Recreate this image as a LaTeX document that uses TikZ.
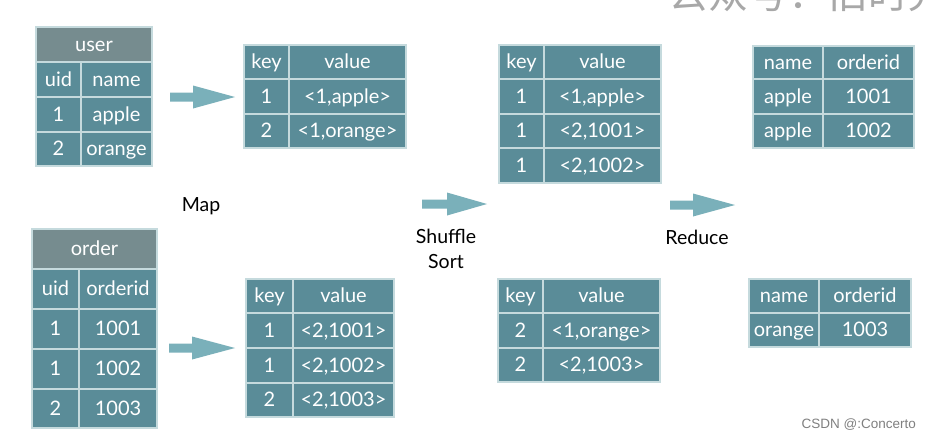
\documentclass[tikz,border=0pt]{standalone}
\usepackage{fontspec}
\setmainfont{Lato}
\newfontfamily\cjkfont{Noto Sans CJK SC}
\newfontfamily\libsans{Liberation Sans}
\definecolor{cellc}{HTML}{5A8C98}
\definecolor{headc}{HTML}{768C8F}
\definecolor{gridc}{HTML}{C5DADD}
\definecolor{arrowc}{HTML}{7AB0BA}
\definecolor{wmc}{HTML}{A8A8A8}
\tikzset{
  tcellbase/.style={draw=gridc, line width=1.2pt, text=white, inner sep=0pt,
    font=\fontsize{20}{20}\selectfont, text height=15pt, text depth=2pt},
  lbl/.style={text=black, font=\fontsize{19.5}{25}\selectfont, inner sep=0pt, align=center}
}
% #1 fill, #2 name, #3 x1, #4 y1, #5 x2, #6 y2, #7 text
\newcommand\tcell[7][cellc]{%
  \node[tcellbase, fill=#1, minimum width={#5pt-#3pt}, minimum height={#6pt-#4pt}]
    (#2) at ({(#3+#5)/2},{(#4+#6)/2}) {#7};}
% x1, head start, tip, y
\newcommand\barrow[4]{%
  \fill[arrowc] ({#1},{#4-4.5}) -- ({#2},{#4-4.5}) -- ({#2},{#4-11.5}) -- ({#3},{#4})
    -- ({#2},{#4+11.5}) -- ({#2},{#4+4.5}) -- ({#1},{#4+4.5}) -- cycle;}
\begin{document}
\begin{tikzpicture}[x=1pt,y=-1pt]
\useasboundingbox (0,0) rectangle (930,440);
\fill[white] (0,0) rectangle (930,440);
\begin{scope}
\clip (0,0) rectangle (930,440);
\node[anchor=base west, text=wmc, font=\cjkfont\fontsize{40}{40}\selectfont, inner sep=0pt] (wm) at (668,8) {公众号：旧时光};
\end{scope}

% user table
\tcell[headc]{uh}{36}{27}{152}{62}{user}
\tcell{u11}{36}{62}{81}{97}{uid}
\tcell{u12}{81}{62}{152}{97}{name}
\tcell{u21}{36}{97}{81}{132}{1}
\tcell{u22}{81}{97}{152}{132}{apple}
\tcell{u31}{36}{132}{81}{166}{2}
\tcell{u32}{81}{132}{152}{166}{orange}

% order table
\tcell[headc]{oh}{32}{229}{157}{269}{order}
\tcell{o11}{32}{269}{79}{309}{uid}
\tcell{o12}{79}{269}{157}{309}{orderid}
\tcell{o21}{32}{309}{79}{349}{1}
\tcell{o22}{79}{309}{157}{349}{1001}
\tcell{o31}{32}{349}{79}{389}{1}
\tcell{o32}{79}{349}{157}{389}{1002}
\tcell{o41}{32}{389}{79}{428}{2}
\tcell{o42}{79}{389}{157}{428}{1003}

% map output 1
\tcell{ma11}{244}{45}{289}{79}{key}
\tcell{ma12}{289}{45}{406}{79}{value}
\tcell{ma21}{244}{79}{289}{114}{1}
\tcell{ma22}{289}{79}{406}{114}{<1,apple>}
\tcell{ma31}{244}{114}{289}{148}{2}
\tcell{ma32}{289}{114}{406}{148}{<1,orange>}

% map output 2
\tcell{mb11}{246}{279}{293}{313}{key}
\tcell{mb12}{293}{279}{394}{313}{value}
\tcell{mb21}{246}{313}{293}{348}{1}
\tcell{mb22}{293}{313}{394}{348}{<2,1001>}
\tcell{mb31}{246}{348}{293}{383}{1}
\tcell{mb32}{293}{348}{394}{383}{<2,1002>}
\tcell{mb41}{246}{383}{293}{417}{2}
\tcell{mb42}{293}{383}{394}{417}{<2,1003>}

% shuffle output 1
\tcell{sa11}{499}{45}{544}{79}{key}
\tcell{sa12}{544}{45}{661}{79}{value}
\tcell{sa21}{499}{79}{544}{114}{1}
\tcell{sa22}{544}{79}{661}{114}{<1,apple>}
\tcell{sa31}{499}{114}{544}{148}{1}
\tcell{sa32}{544}{114}{661}{148}{<2,1001>}
\tcell{sa41}{499}{148}{544}{183}{1}
\tcell{sa42}{544}{148}{661}{183}{<2,1002>}

% shuffle output 2
\tcell{sb11}{498}{279}{543}{313}{key}
\tcell{sb12}{543}{279}{660}{313}{value}
\tcell{sb21}{498}{313}{543}{348}{2}
\tcell{sb22}{543}{313}{660}{348}{<1,orange>}
\tcell{sb31}{498}{348}{543}{382}{2}
\tcell{sb32}{543}{348}{660}{382}{<2,1003>}

% reduce output 1
\tcell{ra11}{753}{46}{823}{79}{name}
\tcell{ra12}{823}{46}{914}{79}{orderid}
\tcell{ra21}{753}{79}{823}{114}{apple}
\tcell{ra22}{823}{79}{914}{114}{1001}
\tcell{ra31}{753}{114}{823}{148}{apple}
\tcell{ra32}{823}{114}{914}{148}{1002}

% reduce output 2
\tcell{rb11}{749}{279}{819}{313}{name}
\tcell{rb12}{819}{279}{911}{313}{orderid}
\tcell{rb21}{749}{313}{819}{347}{orange}
\tcell{rb22}{819}{313}{911}{347}{1003}

% arrows
\barrow{170}{193}{235}{97}
\barrow{169}{192}{235}{348}
\barrow{422}{447}{487}{204}
\barrow{670}{693}{735}{205}

% labels
\node[lbl] (map) at (201,206) {Map};
\node[lbl] (shuffle) at (446,249) {Shuffle\\Sort};
\node[lbl] (reduce) at (697,237) {Reduce};

\node[anchor=east, inner sep=0pt, text=gray, font=\libsans\fontsize{13.5}{13.5}\selectfont] (csdn) at (916,425) {CSDN @:Concerto};
\end{tikzpicture}
\end{document}
